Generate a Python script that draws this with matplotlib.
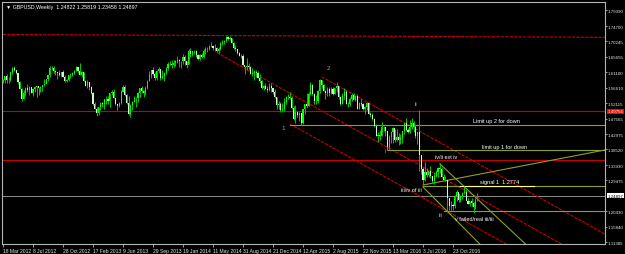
import numpy as np
import matplotlib.pyplot as plt

# GBPUSD weekly bars, first bar = week of 18 Mar 2012
symbol = "GBPUSD,Weekly"
header_ohlc = ["1.24822", "1.25819", "1.23458", "1.24897"]
first_open = 1.5860

highs = [
    # 2012
    1.5930, 1.6010, 1.6060, 1.5990, 1.6130, 1.6265, 1.6300, 1.6190, 1.6090, 1.5850,
    1.5640, 1.5600, 1.5690, 1.5775, 1.5710, 1.5670, 1.5640, 1.5710, 1.5710, 1.5690,
    1.5700, 1.5740, 1.5910, 1.5915, 1.6040, 1.6300, 1.6310, 1.6310, 1.6180, 1.6130,
    1.6180, 1.6135, 1.6170, 1.6030, 1.5930, 1.6040, 1.6085, 1.6130, 1.6175, 1.6310,
    1.6250, 1.6380,
    # 2013
    1.6165, 1.6125, 1.5890, 1.5900, 1.5800, 1.5720, 1.5550, 1.5250, 1.5110, 1.5110,
    1.5250, 1.5230, 1.5330, 1.5410, 1.5415, 1.5520, 1.5605, 1.5610, 1.5370, 1.5180,
    1.5230, 1.5600, 1.5750, 1.5750, 1.5490, 1.5410, 1.5190, 1.5270, 1.5430, 1.5380,
    1.5540, 1.5660, 1.5715, 1.5600, 1.5720, 1.5900, 1.6160, 1.6190, 1.6260, 1.6130,
    1.6170, 1.6260, 1.6175, 1.6180, 1.6130, 1.6260, 1.6410, 1.6440, 1.6470, 1.6470,
    1.6480, 1.6600,
    # 2014
    1.6490, 1.6450, 1.6640, 1.6620, 1.6450, 1.6800, 1.6820, 1.6750, 1.6780, 1.6780,
    1.6640, 1.6640, 1.6675, 1.6800, 1.6840, 1.6850, 1.6920, 1.7005, 1.6920, 1.6935,
    1.6850, 1.6855, 1.6990, 1.7065, 1.7060, 1.7180, 1.7165, 1.7190, 1.7110, 1.7015,
    1.6900, 1.6795, 1.6710, 1.6635, 1.6640, 1.6300, 1.6520, 1.6400, 1.6310, 1.6225,
    1.6170, 1.6180, 1.6150, 1.6050, 1.5890, 1.5740, 1.5810, 1.5720, 1.5790, 1.5785,
    1.5660, 1.5620,
    # 2015
    1.5385, 1.5270, 1.5240, 1.5210, 1.5360, 1.5420, 1.5485, 1.5550, 1.5420, 1.5140,
    1.5165, 1.4990, 1.4950, 1.4925, 1.5050, 1.5180, 1.5500, 1.5525, 1.5815, 1.5770,
    1.5505, 1.5440, 1.5600, 1.5930, 1.5880, 1.5780, 1.5580, 1.5690, 1.5675, 1.5670,
    1.5690, 1.5660, 1.5820, 1.5720, 1.5425, 1.5510, 1.5660, 1.5580, 1.5250, 1.5385,
    1.5510, 1.5510, 1.5425, 1.5480, 1.5250, 1.5335, 1.5225, 1.5135, 1.5245, 1.5240,
    1.4945, 1.4910,
    # 2016 - Jan 2017
    1.4760, 1.4585, 1.4350, 1.4410, 1.4670, 1.4540, 1.4470, 1.4400, 1.4280, 1.4380,
    1.4515, 1.4460, 1.4460, 1.4340, 1.4310, 1.4400, 1.4630, 1.4770, 1.4470, 1.4710,
    1.4770, 1.4690, 1.4600, 1.4360, 1.5020, 1.3625, 1.3330, 1.3480, 1.3300, 1.3235,
    1.3370, 1.3075, 1.3185, 1.3240, 1.3345, 1.3445, 1.3330, 1.3120, 1.3060, 1.2875,
    1.2390, 1.2335, 1.2295, 1.2510, 1.2675, 1.2570, 1.2505, 1.2615, 1.2775, 1.2705,
    1.2430, 1.2335, 1.2430, 1.2300, 1.2415, 1.25819,
]

lows = [
    1.5805, 1.5810, 1.5805, 1.5800, 1.5865, 1.6060, 1.6150, 1.6050, 1.5780, 1.5610,
    1.5270, 1.5325, 1.5410, 1.5550, 1.5455, 1.5495, 1.5410, 1.5540, 1.5400, 1.5435,
    1.5530, 1.5575, 1.5720, 1.5785, 1.5860, 1.5990, 1.6180, 1.6100, 1.6040, 1.5910,
    1.5995, 1.5965, 1.5975, 1.5830, 1.5830, 1.5870, 1.5950, 1.6000, 1.6050, 1.6140,
    1.6100, 1.6030,
    1.5990, 1.5855, 1.5710, 1.5660, 1.5600, 1.5480, 1.5160, 1.5030, 1.4830, 1.4865,
    1.5010, 1.5085, 1.5030, 1.5190, 1.5190, 1.5090, 1.5440, 1.5360, 1.5150, 1.5010,
    1.5090, 1.5180, 1.5550, 1.5420, 1.5195, 1.4860, 1.4815, 1.5000, 1.5230, 1.5100,
    1.5230, 1.5400, 1.5500, 1.5400, 1.5450, 1.5630, 1.5860, 1.5950, 1.6040, 1.5895,
    1.5880, 1.6100, 1.5890, 1.5910, 1.5850, 1.6050, 1.6180, 1.6315, 1.6250, 1.6270,
    1.6310, 1.6380,
    1.6280, 1.6250, 1.6360, 1.6340, 1.6250, 1.6350, 1.6565, 1.6590, 1.6660, 1.6570,
    1.6460, 1.6480, 1.6520, 1.6545, 1.6660, 1.6720, 1.6780, 1.6860, 1.6770, 1.6730,
    1.6695, 1.6690, 1.6765, 1.6920, 1.6930, 1.7005, 1.7060, 1.7060, 1.6970, 1.6795,
    1.6735, 1.6660, 1.6580, 1.6540, 1.6330, 1.6050, 1.6175, 1.6200, 1.6050, 1.6010,
    1.5875, 1.5965, 1.5940, 1.5790, 1.5620, 1.5590, 1.5620, 1.5540, 1.5570, 1.5540,
    1.5485, 1.5370,
    1.5035, 1.5030, 1.4950, 1.4950, 1.4990, 1.5195, 1.5330, 1.5330, 1.5040, 1.4710,
    1.4635, 1.4800, 1.4700, 1.4565, 1.4585, 1.4880, 1.5080, 1.5115, 1.5460, 1.5440,
    1.5170, 1.5170, 1.5200, 1.5500, 1.5660, 1.5560, 1.5330, 1.5420, 1.5415, 1.5480,
    1.5450, 1.5480, 1.5550, 1.5330, 1.5160, 1.5180, 1.5330, 1.5180, 1.5110, 1.5120,
    1.5270, 1.5325, 1.5260, 1.5035, 1.5025, 1.5135, 1.5010, 1.4895, 1.5020, 1.4880,
    1.4810, 1.4725,
    1.4515, 1.4240, 1.4080, 1.4140, 1.4240, 1.4390, 1.4260, 1.3835, 1.3840, 1.4055,
    1.4050, 1.4080, 1.4090, 1.3995, 1.4005, 1.4050, 1.4300, 1.4400, 1.4330, 1.4335,
    1.4450, 1.4350, 1.4185, 1.4010, 1.3230, 1.3120, 1.2800, 1.2930, 1.3050, 1.3055,
    1.3020, 1.2865, 1.2850, 1.3045, 1.3050, 1.3155, 1.3050, 1.2915, 1.2940, 1.2050,
    1.2080, 1.2090, 1.2085, 1.2140, 1.2335, 1.2300, 1.2300, 1.2395, 1.2550, 1.2360,
    1.2250, 1.2200, 1.2200, 1.2000, 1.2110, 1.23458,
]

closes = [
    1.5880, 1.5995, 1.5900, 1.5880, 1.6125, 1.6240, 1.6170, 1.6080, 1.5820, 1.5615,
    1.5330, 1.5500, 1.5660, 1.5595, 1.5675, 1.5500, 1.5630, 1.5695, 1.5700, 1.5640,
    1.5695, 1.5730, 1.5775, 1.5905, 1.6035, 1.6240, 1.6235, 1.6155, 1.6130, 1.6080,
    1.6020, 1.6115, 1.5985, 1.5870, 1.5900, 1.6025, 1.6030, 1.6085, 1.6165, 1.6260,
    1.6150, 1.6045,
    1.6110, 1.5860, 1.5715, 1.5830, 1.5685, 1.5500, 1.5170, 1.5045, 1.4915, 1.5110,
    1.5200, 1.5190, 1.5320, 1.5330, 1.5270, 1.5515, 1.5545, 1.5370, 1.5170, 1.5130,
    1.5200, 1.5545, 1.5690, 1.5440, 1.5215, 1.4880, 1.5165, 1.5235, 1.5370, 1.5360,
    1.5520, 1.5655, 1.5570, 1.5515, 1.5650, 1.5870, 1.6020, 1.6180, 1.6060, 1.5960,
    1.6150, 1.6200, 1.5935, 1.5995, 1.6105, 1.6225, 1.6370, 1.6370, 1.6330, 1.6400,
    1.6455, 1.6470,
    1.6455, 1.6440, 1.6555, 1.6440, 1.6340, 1.6730, 1.6660, 1.6740, 1.6730, 1.6620,
    1.6490, 1.6630, 1.6570, 1.6740, 1.6790, 1.6810, 1.6885, 1.6880, 1.6820, 1.6835,
    1.6750, 1.6795, 1.6970, 1.7010, 1.7025, 1.7155, 1.7100, 1.7105, 1.6985, 1.6825,
    1.6790, 1.6690, 1.6595, 1.6600, 1.6330, 1.6260, 1.6300, 1.6260, 1.6070, 1.6090,
    1.6110, 1.6085, 1.5950, 1.5870, 1.5650, 1.5700, 1.5630, 1.5585, 1.5700, 1.5650,
    1.5540, 1.5380,
    1.5160, 1.5170, 1.5000, 1.5030, 1.5240, 1.5390, 1.5390, 1.5370, 1.5055, 1.4735,
    1.4960, 1.4860, 1.4910, 1.4620, 1.5030, 1.5170, 1.5125, 1.5490, 1.5735, 1.5485,
    1.5275, 1.5260, 1.5570, 1.5880, 1.5745, 1.5575, 1.5510, 1.5610, 1.5495, 1.5615,
    1.5490, 1.5640, 1.5700, 1.5390, 1.5190, 1.5430, 1.5530, 1.5195, 1.5185, 1.5340,
    1.5455, 1.5310, 1.5425, 1.5045, 1.5220, 1.5195, 1.5040, 1.5095, 1.5200, 1.4900,
    1.4875, 1.4735,
    1.4530, 1.4245, 1.4265, 1.4250, 1.4500, 1.4500, 1.4400, 1.3920, 1.4230, 1.4370,
    1.4470, 1.4115, 1.4205, 1.4125, 1.4195, 1.4395, 1.4620, 1.4430, 1.4375, 1.4500,
    1.4640, 1.4520, 1.4250, 1.4360, 1.3675, 1.3290, 1.2955, 1.3195, 1.3110, 1.3230,
    1.3065, 1.2930, 1.3080, 1.3190, 1.3315, 1.3270, 1.3030, 1.2950, 1.2970, 1.2430,
    1.2190, 1.2230, 1.2195, 1.2490, 1.2595, 1.2380, 1.2475, 1.2580, 1.2610, 1.2350,
    1.2265, 1.2345, 1.2275, 1.2180, 1.2370, 1.24897,
]

date_weeks = [0, 16, 32, 48, 64, 80, 96, 112, 128, 144, 160, 176, 192, 208, 224, 240]
date_labels = ["18 Mar 2012", "8 Jul 2012", "28 Oct 2012", "17 Feb 2013", "9 Jun 2013",
               "29 Sep 2013", "19 Jan 2014", "11 May 2014", "31 Aug 2014", "21 Dec 2014",
               "12 Apr 2015", "2 Aug 2015", "22 Nov 2015", "13 Mar 2016", "3 Jul 2016",
               "23 Oct 2016"]

price_ticks = [1.79390, 1.74700, 1.70245, 1.65655, 1.61100, 1.56610, 1.52115, 1.47565,
               1.42975, 1.38520, 1.33930, 1.29475, 1.20430, 1.15840, 1.11385]
bid_price = 1.24897
alert_price = 1.49756

# drawn objects: (week, price) -> (week, price)
red_trendlines = [
    ((0, 1.7221), (321, 1.7139)),
    ((114, 1.6690), (321, 1.0376)),
    ((170, 1.5980), (321, 1.1375)),
    ((153, 1.4598), (321, 0.9474)),
]
red_levels = [1.49756, 1.3543]
olive_lines = [
    ((153, 1.4565), (321, 1.4565)),
    ((205, 1.3835), (321, 1.3835)),
    ((224, 1.2810), (321, 1.3836)),
    ((224, 1.2774), (321, 1.2774)),
    ((235, 1.2040), (321, 1.2040)),
    ((233, 1.3430), (321, 0.8900)),
    ((224, 1.2752), (321, 0.7400)),
]
signal_segment = ((244, 1.2774), (283, 1.2774))

wave_labels = [("1", 149.3, 1.4481), ("2", 173.3, 1.6268), ("i", 203.7, 1.3807),
               ("ii", 220.3, 1.5213), ("iii", 233.6, 1.1931)]
notes = [("iv/ii ext iv", 230.4, 1.3660), ("iii/iv of iii", 212.3, 1.2664),
         ("v failed/real iii/iii", 241.1, 1.1843), ("signal 1  1.2774", 254.4, 1.2927),
         ("Limit up 2 for down", 250.7, 1.4686), ("limit up 1 for down", 255.5, 1.3924)]

plt.rcParams['font.family'] = ['DejaVu Sans']
narrow = ['Liberation Sans Narrow', 'Liberation Sans', 'DejaVu Sans']
regular = ['Liberation Sans', 'DejaVu Sans']

fig = plt.figure(figsize=(6.25, 2.55), dpi=100, facecolor='black')
ax = fig.add_axes([2 / 625, 10 / 255, 603 / 625, 242 / 255], facecolor='black')

weeks = np.arange(len(closes))
c = np.array(closes)
o = np.array([first_open] + closes[:-1])
o[-1] = float(header_ohlc[0])
up = c >= o

ax.vlines(weeks, lows, highs, color='#00c800', lw=0.7, zorder=3)
ax.bar(weeks[up], (c - o)[up], bottom=o[up], width=0.6, color='#00ff00', lw=0, zorder=4)
ax.bar(weeks[~up], (c - o)[~up], bottom=o[~up], width=0.6, color='#c8ffc8', lw=0, zorder=4)

for lvl in red_levels:
    ax.axhline(lvl, color='#c80000', lw=0.8, zorder=2)
ax.axhline(bid_price, color='#8c8c8c', lw=0.7, zorder=2)
for (x1, y1), (x2, y2) in red_trendlines:
    ax.plot([x1, x2], [y1, y2], color='#c80000', lw=0.8, ls=(0, (3, 1)), zorder=2)
for (x1, y1), (x2, y2) in olive_lines:
    ax.plot([x1, x2], [y1, y2], color='#8ca028', lw=0.8, zorder=2)
(x1, y1), (x2, y2) = signal_segment
ax.plot([x1, x2], [y1, y2], color='#ffff80', lw=0.8, zorder=2)

for txt, x, y in wave_labels:
    ax.text(x, y, txt, color='#a0a0a0', fontsize=4.5, family=regular,
            ha='center', va='center', zorder=5)
for txt, x, y in notes:
    ax.text(x, y, txt, color='white', fontsize=4.0, family=regular,
            ha='left', va='center', zorder=5)

ax.set_xlim(-0.53, 321.07)
ax.set_ylim(1.1081, 1.81735)

ax.yaxis.tick_right()
ax.set_yticks(price_ticks, [f"{p:.5f}" for p in price_ticks])
ax.set_xticks(date_weeks, date_labels)
for lab in ax.get_xticklabels() + ax.get_yticklabels():
    lab.set_family(narrow)
for lab in ax.get_xticklabels():
    lab.set_ha('left')
ax.tick_params(axis='both', colors='#b4b4b4', labelcolor='#e6e6e6', labelsize=3.6,
               length=2, width=0.6, pad=1)
ax.tick_params(axis='y', labelsize=3.2, length=1.5, pad=0.6)
for s in ax.spines.values():
    s.set_color('#b4b4b4')
    s.set_linewidth(0.8)

tr = ax.get_yaxis_transform()
ax.text(1.004, bid_price, f"{bid_price:.5f}", transform=tr, fontsize=3.2, family=narrow,
        color='black', va='center', ha='left',
        bbox=dict(boxstyle='square,pad=0.12', fc='white', ec='none'))
ax.text(1.004, alert_price, f"{alert_price:.5f}", transform=tr, fontsize=3.2, family=narrow,
        color='white', va='center', ha='left',
        bbox=dict(boxstyle='square,pad=0.12', fc='#ff0000', ec='none'))

fig.text(6 / 625, 1 - 7 / 255, "\u25bc " + symbol + "  " + " ".join(header_ohlc),
         color='white', fontsize=3.8, family=narrow, va='center', ha='left')

fig.savefig('out.png', dpi=100, facecolor='black')
